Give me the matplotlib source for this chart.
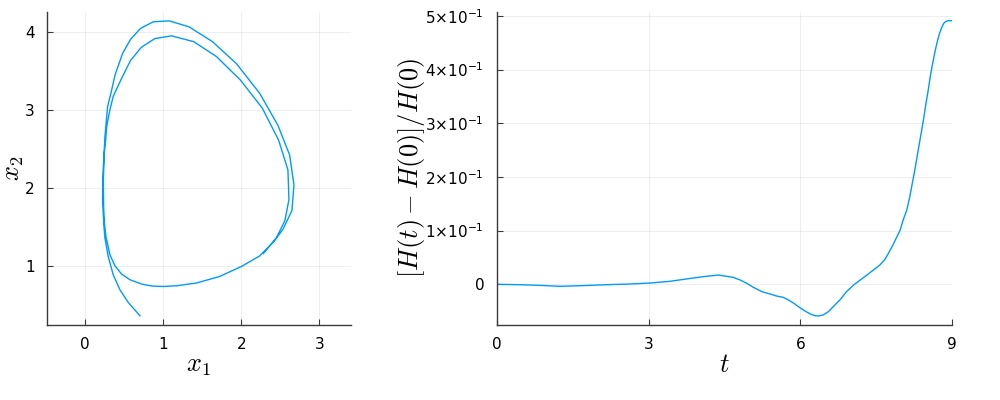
import numpy as np
import matplotlib.pyplot as plt

plt.rcParams['font.family'] = ['DejaVu Sans']
plt.rcParams['mathtext.fontset'] = 'cm'

LINE_COLOR = '#009af9'
SPINE_COLOR = '#3a3a3a'

# phase portrait (x1, x2) in drawing order
x1 = [2.28, 2.447, 2.557, 2.609, 2.596, 2.477, 2.268, 1.987, 1.68, 1.39, 1.105,
      0.891, 0.72, 0.58, 0.465, 0.358, 0.316, 0.274, 0.261, 0.243, 0.232,
      0.235, 0.245, 0.265, 0.316, 0.38, 0.465, 0.572, 0.721, 0.85, 0.997,
      1.169, 1.424, 1.722, 2.0, 2.234,
      2.413, 2.532, 2.647, 2.673, 2.618, 2.468, 2.234, 1.936, 1.63, 1.33,
      1.074, 0.87, 0.708, 0.58, 0.478, 0.38, 0.338, 0.286, 0.252, 0.228,
      0.222, 0.23, 0.24, 0.252, 0.294, 0.358, 0.444, 0.55, 0.70]
x2 = [1.16, 1.36, 1.58, 1.85, 2.23, 2.61, 3.02, 3.38, 3.68, 3.87, 3.945,
      3.91, 3.80, 3.63, 3.40, 3.17, 3.0, 2.78, 2.61, 2.44, 2.10,
      1.76, 1.55, 1.378, 1.144, 1.004, 0.898, 0.825, 0.77, 0.745, 0.739,
      0.748, 0.783, 0.867, 0.995, 1.13,
      1.31, 1.47, 1.71, 2.04, 2.42, 2.80, 3.21, 3.59, 3.87, 4.06,
      4.137, 4.124, 4.04, 3.90, 3.72, 3.44, 3.25, 3.04, 2.655, 2.2,
      1.85, 1.68, 1.5, 1.36, 1.123, 0.889, 0.697, 0.535, 0.365]

# relative energy error over time
t = [0.0, 0.46, 0.86, 1.25, 1.65, 2.17, 2.63, 3.03, 3.42, 3.88, 4.1, 4.38,
     4.67, 4.81, 4.94, 5.07, 5.24, 5.40, 5.53, 5.66, 5.76, 5.87, 5.99, 6.09,
     6.19, 6.29, 6.35, 6.45, 6.55, 6.78, 6.91, 7.05, 7.18, 7.31, 7.44, 7.57,
     7.67, 7.74, 7.82, 7.90, 7.97, 8.03, 8.10, 8.16, 8.21, 8.26, 8.305, 8.35,
     8.395, 8.44, 8.48, 8.525, 8.565, 8.605, 8.645, 8.69, 8.74, 8.79, 8.83,
     8.87, 8.92, 9.0]
h_err = [0.0, -0.0007, -0.002, -0.0037, -0.0026, -0.0007, 0.0006, 0.0024,
         0.0056, 0.0117, 0.0145, 0.0173, 0.013, 0.008, 0.0019, -0.0056,
         -0.0137, -0.018, -0.0218, -0.0243, -0.029, -0.0354, -0.0435, -0.0497,
         -0.055, -0.0584, -0.059, -0.057, -0.051, -0.029, -0.0137, -0.0013,
         0.008, 0.017, 0.0266, 0.036, 0.0466, 0.058, 0.072, 0.0875, 0.101,
         0.12, 0.138, 0.163, 0.188, 0.213, 0.238, 0.2626, 0.287, 0.312, 0.337,
         0.362, 0.387, 0.408, 0.427, 0.447, 0.465, 0.478, 0.486, 0.4895,
         0.491, 0.491]

err_ticks = [0.0, 0.1, 0.2, 0.3, 0.4, 0.5]
err_labels = ['0'] + [r'$%d{\times}10^{-1}$' % k for k in range(1, 6)]


def style_axes(ax):
    for side in ['top', 'right']:
        ax.spines[side].set_visible(False)
    for side in ['left', 'bottom']:
        ax.spines[side].set_color(SPINE_COLOR)
        ax.spines[side].set_linewidth(1.0)
    ax.grid(True, color='black', alpha=0.08, linewidth=0.6)
    ax.set_axisbelow(True)
    ax.tick_params(direction='in', length=4, width=0.8, color=SPINE_COLOR,
                   labelsize=11, pad=9)


fig = plt.figure(figsize=(10, 4), dpi=100)

ax1 = fig.add_axes([0.047, 0.18825, 0.3037, 0.78175])
ax1.plot(x1, x2, color=LINE_COLOR, linewidth=1.0)
ax1.set_xlim(-0.49, 3.40)
ax1.set_ylim(0.25, 4.25)
ax1.set_xticks([0, 1, 2, 3])
ax1.set_yticks([1, 2, 3, 4])
style_axes(ax1)
ax1.set_xlabel(r'$x_1$', fontsize=19, labelpad=0)
ax1.set_ylabel(r'$x_2$', fontsize=19, labelpad=-1)

ax2 = fig.add_axes([0.4967, 0.18825, 0.4556, 0.78225])
ax2.plot(t, h_err, color=LINE_COLOR, linewidth=1.0)
ax2.set_xlim(0, 9)
ax2.set_ylim(-0.0752, 0.5075)
ax2.set_xticks([0, 3, 6, 9])
ax2.set_yticks(err_ticks)
ax2.set_yticklabels(err_labels)
for lab in ax2.get_yticklabels():
    lab.set_math_fontfamily('dejavusans')
style_axes(ax2)
ax2.set_xlabel(r'$t$', fontsize=19, labelpad=0)
ax2.set_ylabel(r'$[H(t)-H(0)]/H(0)$', fontsize=19, labelpad=-1)

fig.savefig('out.png', dpi=100)
